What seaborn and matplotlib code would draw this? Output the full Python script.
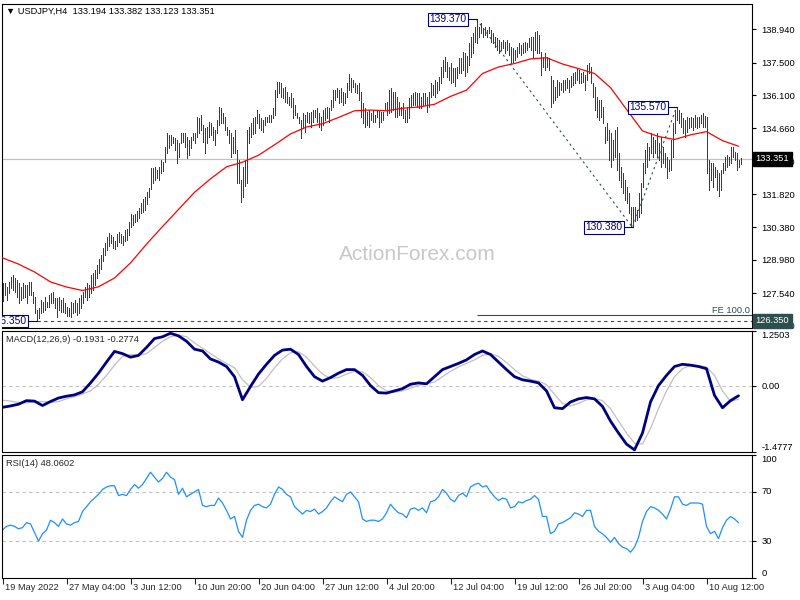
import numpy as np
import pandas as pd
import matplotlib
matplotlib.use('Agg')
import matplotlib.pyplot as plt
import seaborn as sns

# USDJPY H4 bars, 19 May 20:00 .. 15 Aug 08:00
bar_high = [
    128.00, 127.97, 127.83, 128.04, 128.26, 128.33, 128.19, 128.12, 127.97, 127.83,
    127.97, 127.90, 127.90, 128.04, 128.04, 127.61, 127.40, 126.82, 126.89, 127.25,
    127.18, 127.40, 127.18, 127.47, 127.54, 127.61, 127.32, 127.32, 127.40, 127.25,
    127.32, 127.11, 126.96, 126.90, 127.18, 127.11, 127.25, 127.11, 127.32, 127.47,
    127.61, 127.83, 127.97, 127.90, 128.33, 128.40, 128.55, 128.75, 129.00, 129.20,
    129.50, 129.70, 129.95, 130.15, 130.05, 129.95, 129.80, 130.10, 130.20, 130.10,
    130.00, 130.25, 130.30, 130.60, 130.98, 130.90, 130.95, 131.10, 131.20, 131.45,
    131.60, 131.71, 131.90, 132.07, 132.94, 132.94, 133.01, 132.87, 133.01, 133.30,
    133.22, 133.87, 134.45, 134.38, 134.38, 134.30, 134.23, 134.16, 134.02, 134.45,
    134.45, 134.45, 134.30, 134.16, 134.30, 134.45, 134.45, 135.17, 135.10, 135.24,
    134.81, 134.66, 134.74, 134.95, 134.88, 134.74, 134.59, 135.02, 135.60, 135.53,
    135.31, 135.17, 134.74, 134.59, 134.45, 134.30, 134.59, 133.73, 133.30, 132.43,
    133.01, 133.30, 134.59, 134.74, 134.88, 135.10, 135.17, 135.46, 135.30, 135.10,
    135.02, 135.17, 135.17, 135.24, 135.24, 135.53, 136.32, 136.68, 136.68, 136.61,
    136.39, 136.46, 136.25, 136.03, 136.18, 135.96, 135.67, 135.31, 135.17, 135.02,
    135.31, 135.24, 135.38, 135.31, 135.38, 135.46, 135.46, 135.53, 135.31, 135.17,
    135.46, 135.53, 135.60, 135.53, 135.89, 136.32, 136.32, 136.39, 136.32, 136.39,
    136.25, 136.18, 136.61, 137.00, 136.82, 136.75, 136.61, 136.53, 136.61, 136.25,
    135.74, 135.53, 135.38, 135.46, 135.31, 135.46, 135.24, 135.46, 135.46, 135.38,
    135.38, 135.74, 135.81, 136.32, 136.39, 136.25, 136.25, 136.03, 135.81, 135.60,
    135.74, 135.46, 135.60, 135.96, 136.10, 136.18, 136.25, 136.18, 136.18, 136.03,
    136.18, 136.18, 136.03, 136.25, 136.61, 136.53, 136.75, 136.68, 136.89, 137.33,
    137.61, 137.75, 137.54, 137.33, 137.47, 137.25, 137.25, 137.33, 137.69, 137.69,
    137.97, 137.90, 137.80, 138.33, 138.62, 138.77, 139.05, 139.37, 139.05, 139.20,
    138.98, 139.05, 138.91, 139.05, 138.91, 138.77, 138.62, 138.55, 138.48, 138.41,
    138.48, 138.41, 138.48, 138.33, 138.19, 138.12, 138.05, 138.19, 138.33, 138.26,
    138.33, 138.41, 138.33, 138.55, 138.62, 138.62, 138.84, 138.87, 138.70, 137.97,
    137.76, 137.90, 137.76, 137.69, 136.90, 136.75, 136.46, 136.75, 136.68, 136.61,
    136.75, 136.75, 136.82, 136.75, 136.90, 137.04, 137.11, 137.25, 137.18, 137.04,
    137.11, 136.97, 137.40, 137.47, 137.33, 136.61, 136.46, 136.03, 135.89, 135.89,
    135.60, 134.74, 134.88, 134.59, 134.45, 134.16, 134.59, 134.74, 133.58, 133.01,
    132.72, 132.43, 132.14, 131.86, 131.28, 131.28, 131.28, 131.14, 131.86, 132.29,
    133.15, 133.73, 134.02, 133.87, 134.45, 134.30, 134.16, 134.45, 134.02, 134.30,
    133.87, 133.58, 133.44, 133.30, 134.16, 134.88, 135.46, 135.57, 135.46, 135.31,
    135.10, 135.02, 135.17, 135.10, 135.17, 135.10, 135.24, 135.17, 135.17, 135.24,
    135.33, 135.20, 135.17, 133.30, 133.15, 133.15, 133.01, 132.86, 132.72, 132.86,
    133.15, 133.44, 133.51, 133.44, 133.87, 133.87, 133.65, 133.58, 133.30, 133.382,
]
bar_low = [
    127.20, 127.47, 127.25, 127.54, 127.76, 127.68, 127.61, 127.40, 127.11, 127.25,
    127.32, 127.40, 127.11, 127.47, 127.47, 127.11, 126.68, 126.35, 126.46, 126.68,
    126.75, 126.82, 126.96, 126.96, 127.11, 127.11, 126.89, 126.53, 126.82, 126.75,
    126.75, 126.68, 126.55, 126.56, 126.53, 126.68, 126.75, 126.60, 126.68, 126.89,
    127.11, 127.40, 127.25, 127.40, 127.54, 127.68, 127.90, 128.19, 128.40, 128.60,
    128.95, 129.20, 129.40, 129.60, 129.70, 129.50, 129.45, 129.60, 129.75, 129.70,
    129.62, 129.80, 129.85, 130.05, 130.40, 130.50, 130.60, 130.65, 130.80, 131.00,
    131.05, 131.14, 131.40, 131.71, 132.05, 132.29, 132.43, 132.50, 132.43, 132.72,
    132.80, 133.22, 133.58, 133.80, 133.94, 134.02, 133.73, 133.15, 133.44, 134.02,
    134.09, 133.87, 133.37, 133.51, 133.80, 134.16, 134.02, 134.30, 134.45, 134.59,
    134.09, 133.58, 134.02, 134.30, 134.38, 134.16, 133.94, 134.45, 134.81, 134.88,
    134.88, 134.59, 134.38, 134.02, 133.44, 133.58, 133.58, 132.29, 132.29, 131.50,
    131.71, 132.15, 132.29, 134.02, 134.30, 134.40, 134.45, 134.88, 134.66, 134.59,
    134.52, 134.81, 134.95, 134.95, 134.95, 135.10, 135.24, 136.03, 136.18, 136.03,
    135.96, 135.81, 135.74, 135.67, 135.60, 135.10, 135.24, 135.10, 134.88, 134.23,
    134.66, 134.52, 134.95, 134.88, 134.74, 134.95, 135.17, 134.95, 134.74, 134.59,
    134.81, 135.02, 135.10, 134.95, 135.46, 135.60, 135.89, 136.03, 135.74, 135.81,
    135.67, 135.74, 136.03, 136.32, 136.25, 136.46, 136.25, 136.18, 135.89, 135.17,
    134.88, 134.74, 134.81, 134.74, 135.02, 134.95, 134.95, 135.17, 134.74, 134.95,
    135.02, 135.46, 135.24, 135.31, 135.38, 135.46, 135.17, 135.17, 135.24, 135.24,
    135.10, 134.95, 134.95, 135.10, 135.60, 135.67, 135.67, 135.60, 135.53, 135.53,
    135.67, 135.67, 135.38, 135.60, 136.03, 136.10, 136.03, 136.18, 136.32, 136.61,
    136.89, 137.15, 136.89, 136.75, 136.61, 136.68, 136.50, 136.82, 137.04, 137.04,
    137.18, 136.90, 137.10, 137.40, 137.76, 137.90, 138.40, 138.33, 138.62, 138.77,
    138.62, 138.70, 138.62, 138.77, 138.40, 138.33, 138.19, 138.05, 137.90, 138.05,
    138.12, 137.90, 138.05, 137.83, 137.47, 137.54, 137.61, 137.76, 137.90, 137.83,
    137.90, 137.97, 138.05, 138.19, 138.05, 137.76, 138.05, 137.90, 137.90, 136.97,
    137.33, 137.18, 137.33, 137.18, 135.60, 135.74, 135.89, 136.03, 136.10, 136.32,
    136.25, 136.32, 136.39, 136.25, 136.46, 136.53, 136.61, 136.75, 136.61, 136.61,
    136.68, 136.32, 136.75, 137.04, 136.61, 136.03, 135.46, 135.17, 135.02, 135.17,
    134.88, 134.02, 134.16, 133.30, 133.01, 133.30, 133.44, 132.87, 132.43, 132.14,
    131.86, 131.57, 131.42, 130.99, 130.42, 130.38, 130.64, 130.70, 130.85, 130.99,
    132.14, 132.72, 133.01, 133.30, 133.58, 133.44, 133.58, 133.44, 133.30, 133.01,
    133.15, 133.01, 132.50, 132.80, 132.87, 133.44, 134.45, 135.02, 134.88, 134.74,
    134.45, 134.30, 134.52, 134.66, 134.74, 134.59, 134.74, 134.66, 134.74, 134.88,
    134.72, 134.70, 132.72, 132.00, 132.43, 132.14, 132.58, 132.00, 131.73, 132.00,
    132.72, 132.86, 133.01, 133.08, 133.15, 133.44, 133.30, 132.86, 133.01, 133.123,
]
last_price = 133.351
header = '\u25bc USDJPY,H4  133.194 133.382 133.123 133.351'

# red moving average, read every 8 bars
ma_step = 8
ma_values = [
    129.07, 128.80, 128.46, 128.03, 127.81, 127.66, 127.82, 128.20, 128.85, 129.66,
    130.42, 131.16, 131.90, 132.48, 133.00, 133.20, 133.50, 133.95, 134.42, 134.72,
    134.86, 135.13, 135.42, 135.45, 135.42, 135.53, 135.58, 135.70, 136.04, 136.31,
    137.03, 137.31, 137.46, 137.66, 137.71, 137.44, 137.24, 137.03, 136.42, 135.48,
    134.55, 134.31, 134.18, 134.38, 134.52, 134.13, 133.89,
]

# MACD(12,26,9), read every 4 bars
macd_step = 4
macd_main = [
    -0.47, -0.44, -0.40, -0.32, -0.33, -0.43, -0.34, -0.26, -0.22, -0.19,
    -0.12, 0.08, 0.30, 0.55, 0.79, 0.74, 0.66, 0.70, 0.88, 1.08,
    1.12, 1.20, 1.14, 1.02, 0.84, 0.80, 0.62, 0.55, 0.45, 0.22,
    -0.30, 0.00, 0.28, 0.50, 0.70, 0.82, 0.84, 0.72, 0.45, 0.22,
    0.12, 0.20, 0.30, 0.38, 0.38, 0.25, 0.02, -0.14, -0.15, -0.10,
    -0.05, 0.05, 0.08, 0.06, 0.22, 0.38, 0.45, 0.52, 0.60, 0.72,
    0.80, 0.72, 0.55, 0.38, 0.22, 0.15, 0.12, 0.08, -0.10, -0.48,
    -0.50, -0.35, -0.28, -0.25, -0.28, -0.45, -0.78, -1.05, -1.30, -1.43,
    -1.05, -0.35, 0.02, 0.25, 0.45, 0.50, 0.48, 0.45, 0.40, -0.20,
    -0.48, -0.32, -0.21,
]
macd_signal = [
    -0.31, -0.33, -0.36, -0.37, -0.34, -0.34, -0.36, -0.34, -0.28, -0.23,
    -0.17, -0.10, 0.05, 0.25, 0.48, 0.68, 0.72, 0.70, 0.74, 0.88,
    1.02, 1.12, 1.16, 1.12, 0.98, 0.86, 0.74, 0.62, 0.52, 0.42,
    0.15, -0.02, 0.00, 0.18, 0.42, 0.62, 0.76, 0.78, 0.66, 0.46,
    0.28, 0.18, 0.20, 0.28, 0.34, 0.33, 0.20, 0.02, -0.10, -0.13,
    -0.10, -0.04, 0.03, 0.06, 0.10, 0.22, 0.34, 0.44, 0.52, 0.60,
    0.70, 0.74, 0.68, 0.54, 0.38, 0.24, 0.16, 0.12, 0.04, -0.18,
    -0.38, -0.44, -0.38, -0.30, -0.27, -0.32, -0.50, -0.78, -1.05, -1.28,
    -1.30, -0.95, -0.50, -0.10, 0.22, 0.40, 0.48, 0.47, 0.44, 0.25,
    -0.10, -0.33, -0.29,
]
macd_top, macd_bottom = 1.2503, -1.4777

# RSI(14), read every 2 bars
rsi_step = 2
rsi_values = [
    39, 42, 43, 42, 40, 41, 45, 44, 37, 30,
    36, 39, 47, 45, 42, 48, 44, 43, 45, 46,
    54, 58, 62, 65, 68, 72, 74, 75, 75, 67,
    68, 67, 72, 76, 73, 76, 81, 86, 82, 78,
    81, 86, 82, 80, 68, 73, 66, 68, 70, 72,
    59, 58, 59, 59, 65, 61, 55, 48, 50, 38,
    33, 47, 55, 59, 60,
    58, 57, 60, 68, 74, 72, 68, 66, 58, 55,
    52, 55, 54, 56, 52, 54, 57, 62, 66, 64,
    62, 68, 70, 66, 62, 48, 46, 47, 47, 46,
    48, 53, 60, 56, 53, 52, 49, 56, 57, 55,
    57, 53, 62, 63, 66, 72, 69, 64, 62, 67,
    69, 66, 74, 76, 77, 74, 75, 70, 66, 63,
    65, 64, 57, 58, 62, 61, 63, 64, 67, 64,
    50, 50, 36, 38, 44, 45, 47, 49, 53, 52,
    50, 55, 55, 42, 38, 36, 33, 29, 33, 28,
    25, 24, 21, 25, 33, 46, 54, 58, 57, 55,
    52, 48, 56, 66, 66, 60, 59, 61, 61, 61,
    60, 42, 36, 38, 32, 41, 47, 50, 48, 45,
]

# swing points: (bar, 'high'/'low')
swing_bars = [17, 237, 315, 337]
swing_kind = ['low', 'high', 'low', 'high']

price_ticks = [138.94, 137.50, 136.10, 134.66, 133.22, 131.82, 130.38, 128.98, 127.54, 126.14]
time_tick_step = 32
time_labels = ['19 May 2022', '27 May 04:00', '3 Jun 12:00', '10 Jun 20:00', '20 Jun 04:00',
               '27 Jun 12:00', '4 Jul 20:00', '12 Jul 04:00', '19 Jul 12:00', '26 Jul 20:00',
               '3 Aug 04:00', '10 Aug 12:00']

sns.set_style('white')
plt.rcParams['font.family'] = ['Liberation Sans', 'DejaVu Sans']
fs = 6.7
plt.rcParams['font.size'] = fs

bar_color = '#1b4566'
navy = '#000080'
slate = '#2f4f4f'
silver = '#c0c0c0'

n_bars = len(bar_high)
bars = pd.DataFrame({'bar': np.arange(n_bars), 'high': bar_high, 'low': bar_low})
ma_df = pd.DataFrame({'bar': np.arange(0, n_bars, ma_step), 'ma': ma_values})
macd_df = pd.DataFrame({'bar': np.arange(0, n_bars, macd_step), 'main': macd_main, 'signal': macd_signal})
rsi_df = pd.DataFrame({'bar': np.arange(0, n_bars, rsi_step), 'rsi': rsi_values})

fig = plt.figure(figsize=(8, 6), dpi=100)


def panel(top, bottom):
    a = fig.add_axes([2 / 800, 1 - bottom / 600, 750 / 800, (bottom - top) / 600])
    a.set_xlim(-0.25, 374.75)
    for s in a.spines.values():
        s.set_color('black')
        s.set_linewidth(0.8)
    a.yaxis.tick_right()
    a.tick_params(axis='y', right=True, left=False, direction='out', length=3, width=0.8,
                  pad=4, labelsize=fs, colors='black')
    a.tick_params(axis='x', bottom=False, labelbottom=False)
    return a


ax = panel(4, 328)
ax_macd = panel(331, 452)
ax_rsi = panel(455, 578)

# ---- price panel
ax.set_ylim(126.04, 140.03)
ax.axhline(last_price, color=silver, lw=0.9, zorder=1)
ax.vlines(bars['bar'], bars['low'], bars['high'], color=bar_color, lw=0.5,
          antialiased=False, zorder=2)
sns.lineplot(data=ma_df, x='bar', y='ma', ax=ax, color='red', lw=0.9, zorder=3)

swing_price = [bar_high[b] if k == 'high' else bar_low[b] for b, k in zip(swing_bars, swing_kind)]
ax.plot(swing_bars[1:], swing_price[1:], color=slate, lw=0.8, ls=(0, (2, 3)), zorder=3)
ax.hlines(swing_price[0], swing_bars[0], 374.75, color=slate, lw=0.8, ls=(0, (3, 3)), zorder=3)

fe_level = swing_price[3] - (swing_price[1] - swing_price[2])
ax.hlines(fe_level, swing_bars[1], 374.75, color=slate, lw=0.8, zorder=3)
ax.text(373.5, fe_level + 0.04, 'FE 100.0', ha='right', va='bottom', color=slate, fontsize=fs)

for b, p in zip(swing_bars, swing_price):
    ax.plot([b - 5, b], [p, p], color=navy, lw=0.8, zorder=4)
    ax.text(b - 5, p, f'{p:.3f}', ha='right', va='center', color=navy, fontsize=7.4, zorder=5,
            clip_on=True, bbox=dict(boxstyle='square,pad=0.12', fc='white', ec=navy, lw=0.8))

ax.set_yticks(price_ticks)
ax.set_yticklabels([f'{v:.3f}' for v in price_ticks])
ytr = ax.get_yaxis_transform()
ax.text(1.005, last_price, f'{last_price:.3f}', transform=ytr, ha='left', va='center', color='white',
        fontsize=fs, clip_on=False, zorder=6,
        bbox=dict(boxstyle='square,pad=0.25', fc='black', ec='black'))
ax.text(1.005, swing_price[0], f'{swing_price[0]:.3f}', transform=ytr, ha='left', va='center',
        color='white', fontsize=fs, clip_on=False, zorder=6,
        bbox=dict(boxstyle='square,pad=0.25', fc=slate, ec=slate))
ax.text(0.005, 0.99, header, transform=ax.transAxes, ha='left', va='top', fontsize=fs, color='black')
ax.set_xlabel('')
ax.set_ylabel('')

# ---- MACD panel
ax_macd.set_ylim(macd_bottom, macd_top)
ax_macd.axhline(0, color=silver, lw=0.8, ls=(0, (3, 3)))
sns.lineplot(data=macd_df, x='bar', y='signal', ax=ax_macd, color=silver, lw=0.9)
sns.lineplot(data=macd_df, x='bar', y='main', ax=ax_macd, color=navy, lw=2.0)
ax_macd.set_yticks([macd_bottom, 0, macd_top])
ax_macd.set_yticklabels([f'{macd_bottom:.4f}', '0.00', f'{macd_top:.4f}'])
for lab, va in zip(ax_macd.get_yticklabels(), ['bottom', 'center', 'top']):
    lab.set_va(va)
ax_macd.text(0.005, 0.965, 'MACD(12,26,9) -0.1931 -0.2774', transform=ax_macd.transAxes,
             ha='left', va='top', fontsize=fs)
ax_macd.set_xlabel('')
ax_macd.set_ylabel('')

# ---- RSI panel
ax_rsi.set_ylim(0, 100)
for lvl in (30, 70):
    ax_rsi.axhline(lvl, color=silver, lw=0.8, ls=(0, (3, 3)))
sns.lineplot(data=rsi_df, x='bar', y='rsi', ax=ax_rsi, color='#1e90ff', lw=0.9)
ax_rsi.set_yticks([0, 30, 70, 100])
ax_rsi.set_yticklabels(['0', '30', '70', '100'])
for lab, va in zip(ax_rsi.get_yticklabels(), ['bottom', 'center', 'center', 'top']):
    lab.set_va(va)
ax_rsi.text(0.005, 0.965, 'RSI(14) 48.0602', transform=ax_rsi.transAxes, ha='left', va='top', fontsize=fs)
ax_rsi.set_xlabel('')
ax_rsi.set_ylabel('')

tick_bars = np.arange(0, n_bars, time_tick_step)
ax_rsi.set_xticks(tick_bars)
ax_rsi.tick_params(axis='x', bottom=True, direction='out', length=4, width=0.8, labelbottom=False)
for b, lab in zip(tick_bars, time_labels):
    ax_rsi.annotate(lab, xy=(b, 0), xycoords=('data', 'axes fraction'), xytext=(1.5, -3.5),
                    textcoords='offset points', ha='left', va='top', fontsize=fs)

fig.text(417 / 800, 1 - 255 / 600, 'ActionForex.com', ha='center', va='center',
         fontsize=15, color='#c8c8c8')

fig.savefig('out.png', dpi=100)
